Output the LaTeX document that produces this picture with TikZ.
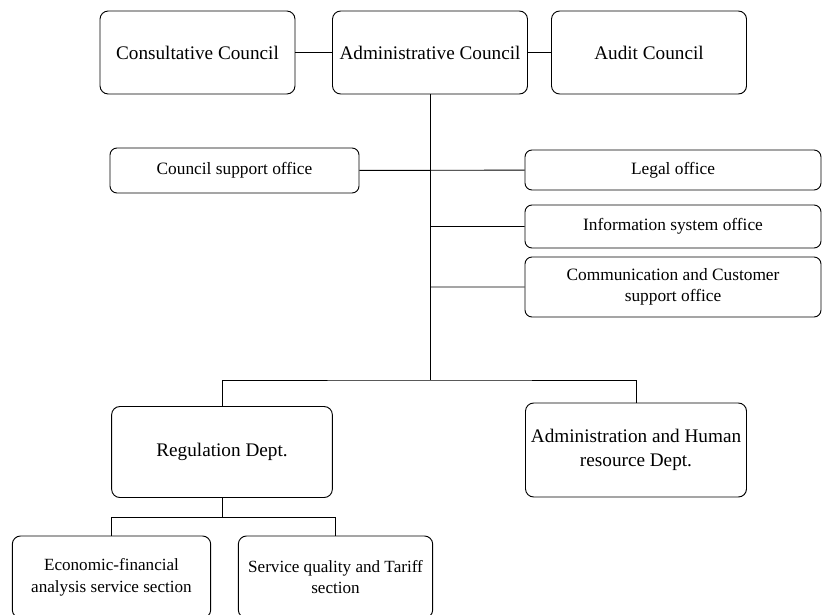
\documentclass[tikz,border=0pt]{standalone}
\usepackage{fontspec}
\setmainfont{Liberation Serif}

\begin{document}
\begin{tikzpicture}[x=0.03cm, y=-0.03cm, line width=0.8pt, inner sep=2pt,
    unit/.style={draw, rounded corners=7pt, align=center,
      font=\fontsize{16.4}{20}\selectfont},
    office/.style={draw, rounded corners=6pt, align=center,
      minimum width=8.88cm, font=\fontsize{14.8}{17.5}\selectfont}]
  \useasboundingbox (0,0) rectangle (822,614);
  \clip (0,0) rectangle (822,614);
  \path node (cc)  at (197.5, 52.5) [unit, minimum width=5.85cm, minimum height=2.49cm] {Consultative Council}
        node (ac)  at (430, 52.5)   [unit, minimum width=5.85cm, minimum height=2.49cm] {Administrative Council}
        node (au)  at (649, 52.5)   [unit, minimum width=5.85cm, minimum height=2.49cm] {Audit Council}
        node (cso) at (234.5,170.5) [office, minimum width=7.47cm, minimum height=1.35cm] {Council support office}
        node (lo)  at (673, 170)    [office, minimum height=1.2cm] {Legal office}
        node (iso) at (673, 226.5)  [office, minimum height=1.29cm] {Information system office}
        node (cco) at (673, 287)    [office, minimum height=1.8cm] {Communication and Customer\\support office}
        node (rd)  at (222, 452)    [unit, minimum width=6.62cm, minimum height=2.73cm] {Regulation Dept.}
        node (hr)  at (636, 450)    [unit, minimum width=6.63cm, minimum height=2.82cm] {Administration and Human\\resource Dept.}
        node (efa) at (111.5, 577)  [unit, minimum width=5.95cm, minimum height=2.46cm,
                                     font=\fontsize{14.6}{18.5}\selectfont] {Economic-financial\\analysis service section}
        node (sqt) at (335.5, 577)  [unit, minimum width=5.83cm, minimum height=2.46cm,
                                     font=\fontsize{14.6}{18.5}\selectfont] {Service quality and Tariff\\section};
  \coordinate (bus) at (430, 380);
  \coordinate (sub) at (222, 517);
  \draw (cc) -- (ac) (ac) -- (au);
  \draw (ac.south) -- (bus);
  \draw (cso) -- (lo) (iso) -- (iso -| bus) (cco) -- (cco -| bus);
  \draw (rd.north) |- (bus) -| (hr.north);
  \draw (rd.south) -- (sub);
  \draw (efa.north) |- (sub) -| (sqt.north);
\end{tikzpicture}
\end{document}
